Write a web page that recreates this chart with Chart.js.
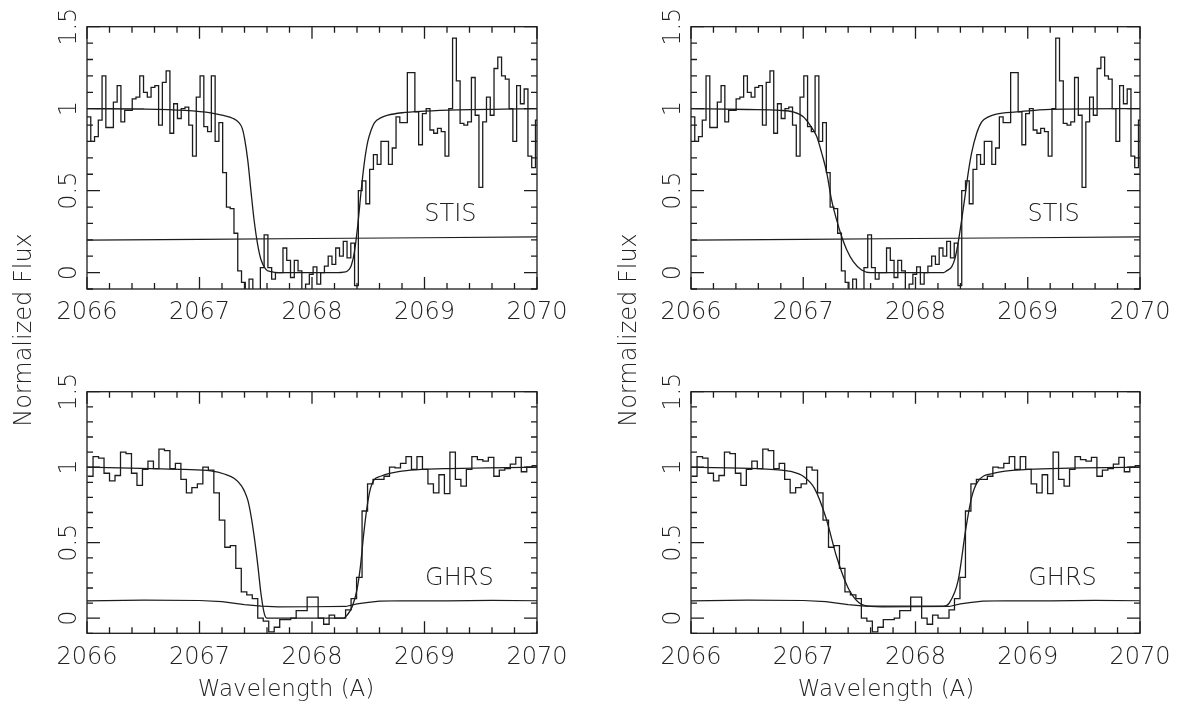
<!DOCTYPE html>
<html>
<head>
<meta charset="utf-8">
<script src="https://cdn.jsdelivr.net/npm/chart.js@4.4.0/dist/chart.umd.min.js"></script>
<style>
  body { margin: 0; background: #fff; }
  canvas { position: absolute; left: 0; top: 0; }
</style>
</head>
<body>
<canvas id="stisLeft" width="1181" height="728"></canvas>
<canvas id="stisRight" width="1181" height="728"></canvas>
<canvas id="ghrsLeft" width="1181" height="728"></canvas>
<canvas id="ghrsRight" width="1181" height="728"></canvas>
<script>
// STIS spectrum: bins of 0.0335 A starting at 2066.0
const stisStart = 2066.0, stisBin = 0.0335;
const stisFlux = [
  0.95, 0.80, 0.83, 0.93, 1.20, 0.885, 0.885, 1.04, 1.14, 0.92,
  0.99, 0.99, 1.06, 1.07, 1.20, 1.10, 1.07, 1.13, 1.14, 0.90,
  1.16, 1.23, 0.85, 1.03, 0.94, 1.00, 1.01, 0.90, 0.71, 1.07,
  1.20, 0.89, 0.86, 1.20, 0.80, 0.915, 0.61, 0.40, 0.39, 0.24,
  0.01, -0.06, -0.15, -0.04, -0.15, -0.15, 0.03, 0.23, 0.03, -0.04,
  0.00, 0.00, 0.15, 0.075, -0.03, 0.075, 0.01, -0.15, -0.07, -0.01,
  0.035, -0.07, 0.00, 0.04, 0.10, 0.05, 0.15, 0.10, 0.19, 0.09,
  0.18, -0.08, 0.50, 0.56, 0.42, 0.63, 0.72, 0.66, 0.80, 0.80,
  0.66, 0.76, 0.95, 0.915, 0.915, 1.22, 1.22, 0.98, 0.78, 0.97,
  1.00, 0.87, 0.85, 0.88, 0.86, 0.71, 1.00, 1.43, 1.17, 0.91,
  0.90, 0.92, 1.19, 0.96, 0.52, 0.92, 1.07, 0.96, 1.245, 1.315,
  1.20, 1.18, 1.00, 0.80, 1.14, 1.03, 1.12, 0.71, 0.64, 0.93
];

// GHRS spectrum: bins of 0.0488 A
const ghrsStart = 2066.005, ghrsBin = 0.0488;
const ghrsFlux = [
  0.94, 1.07, 1.06, 0.96, 0.91, 0.945, 1.10, 1.09, 0.96, 0.88,
  0.985, 1.04, 0.99, 1.12, 1.11, 0.99, 1.025, 0.92, 0.83, 0.865,
  0.89, 1.00, 0.98, 0.83, 0.65, 0.47, 0.48, 0.33, 0.175, 0.155,
  0.13, 0.00, -0.02, -0.09, -0.06, -0.01, -0.01, 0.00, 0.05, 0.05,
  0.14, 0.14, 0.00, -0.04, 0.02, 0.00, 0.00, 0.055, 0.13, 0.27,
  0.71, 0.89, 0.92, 0.92, 0.94, 1.00, 0.995, 1.025, 1.07, 0.985,
  1.07, 0.985, 0.89, 0.83, 0.95, 0.825, 1.10, 0.92, 0.875, 0.985,
  1.07, 1.05, 1.04, 1.065, 0.94, 0.98, 0.99, 1.02, 1.065, 0.97,
  1.00, 1.01
];

// error levels
const stisErrWave = [2066, 2067, 2068, 2069, 2070];
const stisErr = [0.198, 0.203, 0.208, 0.213, 0.218];
const ghrsErrWave = [2066, 2066.5, 2067.0, 2067.2, 2067.4, 2067.55, 2067.7, 2068.0, 2068.3, 2068.4, 2068.5, 2068.6, 2068.8, 2069.2, 2069.6, 2070];
const ghrsErr = [0.115, 0.12, 0.117, 0.11, 0.09, 0.08, 0.075, 0.076, 0.078, 0.095, 0.105, 0.113, 0.116, 0.115, 0.118, 0.116];

// model fits (left = first fit, right = second fit)
const stisFitLWave = [2066.0, 2066.5, 2066.87, 2067.1, 2067.2, 2067.3, 2067.35, 2067.38, 2067.40, 2067.43, 2067.457, 2067.487, 2067.517, 2067.546, 2067.59, 2067.636, 2067.7, 2068.2, 2068.30, 2068.33, 2068.35, 2068.378, 2068.407, 2068.437, 2068.467, 2068.496, 2068.526, 2068.556, 2068.615, 2068.674, 2068.8, 2069.0, 2069.3, 2069.7, 2070.0];
const stisFitL = [1.00, 0.998, 0.99, 0.975, 0.96, 0.94, 0.915, 0.88, 0.82, 0.68, 0.50, 0.31, 0.17, 0.08, 0.02, 0.006, 0.0, 0.0, 0.005, 0.02, 0.045, 0.13, 0.29, 0.50, 0.68, 0.80, 0.87, 0.915, 0.945, 0.96, 0.975, 0.985, 0.993, 0.997, 1.0];

const stisFitRWave = [2066.0, 2066.5, 2066.79, 2066.91, 2067.0, 2067.06, 2067.12, 2067.164, 2067.209, 2067.253, 2067.298, 2067.342, 2067.387, 2067.446, 2067.52, 2067.6, 2068.25, 2068.28, 2068.322, 2068.352, 2068.382, 2068.411, 2068.44, 2068.47, 2068.5, 2068.545, 2068.59, 2068.65, 2068.72, 2068.9, 2069.2, 2070.0];
const stisFitR = [1.0, 0.995, 0.99, 0.98, 0.95, 0.90, 0.83, 0.73, 0.61, 0.44, 0.32, 0.22, 0.14, 0.067, 0.016, 0.0, 0.0, 0.012, 0.035, 0.087, 0.19, 0.32, 0.46, 0.61, 0.73, 0.85, 0.92, 0.95, 0.967, 0.98, 0.996, 1.0];

const ghrsFitLWave = [2066.0, 2066.57, 2066.86, 2067.1, 2067.22, 2067.31, 2067.37, 2067.40, 2067.43, 2067.46, 2067.49, 2067.52, 2067.546, 2067.576, 2067.6, 2068.28, 2068.312, 2068.357, 2068.40, 2068.43, 2068.46, 2068.49, 2068.52, 2068.55, 2068.61, 2068.7, 2068.876, 2069.17, 2070.0];
const ghrsFitL = [1.0, 0.99, 0.985, 0.975, 0.955, 0.925, 0.88, 0.84, 0.78, 0.67, 0.52, 0.34, 0.165, 0.03, 0.0, 0.0, 0.02, 0.076, 0.19, 0.34, 0.56, 0.74, 0.86, 0.915, 0.94, 0.96, 0.98, 0.99, 1.0];

const ghrsFitRWave = [2066.0, 2066.6, 2066.9, 2067.0, 2067.1, 2067.2, 2067.3, 2067.4, 2067.5, 2067.6, 2068.25, 2068.3, 2068.38, 2068.45, 2068.5, 2068.55, 2068.7, 2069.0, 2070.0];
const ghrsFitR = [1.0, 0.99, 0.97, 0.94, 0.86, 0.67, 0.40, 0.20, 0.10, 0.08, 0.08, 0.10, 0.25, 0.60, 0.80, 0.90, 0.96, 0.985, 1.0];

const xTicks = [2066, 2067, 2068, 2069, 2070];
const xTickLabels = ['2066', '2067', '2068', '2069', '2070'];
const yTicks = [0, 0.5, 1, 1.5];
const yTickLabels = ['0', '0.5', '1', '1.5'];

const INK = '#1c1c1c';
const FONT = '"DejaVu Sans", sans-serif';

function histPoints(start, bin, flux) {
    const pts = flux.map((v, i) => ({ x: start + i * bin, y: v }));
    pts.push({ x: start + flux.length * bin, y: flux[flux.length - 1] });
    return pts;
}

function linePoints(wave, vals) {
    return wave.map((w, i) => ({ x: w, y: vals[i] }));
}

// frame, inward ticks and all text
const framePlugin = {
    id: 'frame',
    afterDraw(chart, args, o) {
        const { ctx, chartArea: a } = chart;
        const sx = chart.scales.x, sy = chart.scales.y;
        ctx.save();
        ctx.strokeStyle = INK;
        ctx.lineWidth = 1.3;
        ctx.strokeRect(a.left, a.top, a.right - a.left, a.bottom - a.top);

        ctx.beginPath();
        for (let k = 0; k <= 20; k++) {
            const px = sx.getPixelForValue(xTicks[0] + k * 0.2);
            const len = (k % 5 === 0) ? 12 : 6;
            ctx.moveTo(px, a.bottom); ctx.lineTo(px, a.bottom - len);
            ctx.moveTo(px, a.top); ctx.lineTo(px, a.top + len);
        }
        for (let k = -1; k <= 15; k++) {
            const py = sy.getPixelForValue(k * 0.1);
            const len = (k % 5 === 0) ? 13 : 6;
            ctx.moveTo(a.left, py); ctx.lineTo(a.left + len, py);
            ctx.moveTo(a.right, py); ctx.lineTo(a.right - len, py);
        }
        ctx.stroke();

        ctx.fillStyle = '#222';
        ctx.font = '200 24px ' + FONT;
        ctx.textAlign = 'center';
        ctx.textBaseline = 'middle';
        xTicks.forEach((v, i) => {
            ctx.fillText(xTickLabels[i], sx.getPixelForValue(v), a.bottom + 24);
        });
        yTicks.forEach((v, i) => {
            ctx.save();
            ctx.translate(a.left - 17, sy.getPixelForValue(v));
            ctx.rotate(-Math.PI / 2);
            ctx.fillText(yTickLabels[i], 0, 0);
            ctx.restore();
        });

        ctx.fillText(o.tag, sx.getPixelForValue(o.tagX), sy.getPixelForValue(o.tagY));

        if (o.yTitle) {
            ctx.save();
            ctx.translate(o.yTitle.x, o.yTitle.y);
            ctx.rotate(-Math.PI / 2);
            ctx.fillText('Normalized Flux', 0, 0);
            ctx.restore();
        }
        if (o.xTitle) {
            ctx.font = '200 23px ' + FONT;
            ctx.fillText('Wavelength (A)', o.xTitle.x, o.xTitle.y);
        }
        ctx.restore();
    }
};

function makePanel(id, box, hist, err, fit, frameOpts) {
    const ctx = document.getElementById(id).getContext('2d');
    return new Chart(ctx, {
        type: 'line',
        data: {
            datasets: [
                { data: err, borderColor: INK, borderWidth: 1.1, pointRadius: 0, tension: 0, clip: 0 },
                { data: fit, borderColor: INK, borderWidth: 1.3, pointRadius: 0, cubicInterpolationMode: 'monotone', clip: 0 },
                { data: hist, borderColor: INK, borderWidth: 1.3, pointRadius: 0, stepped: true, clip: 0 }
            ]
        },
        options: {
            responsive: false,
            animation: false,
            devicePixelRatio: 1,
            layout: { padding: { left: box.left, top: box.top, right: 1181 - box.right, bottom: 728 - box.bottom } },
            scales: {
                x: { type: 'linear', min: 2066, max: 2070, display: false },
                y: { type: 'linear', min: -0.1, max: 1.5, display: false }
            },
            plugins: {
                legend: { display: false },
                tooltip: { enabled: false },
                frame: frameOpts
            }
        },
        plugins: [framePlugin]
    });
}

const stisHist = histPoints(stisStart, stisBin, stisFlux);
const ghrsHist = histPoints(ghrsStart, ghrsBin, ghrsFlux);
const stisErrLine = linePoints(stisErrWave, stisErr);
const ghrsErrLine = linePoints(ghrsErrWave, ghrsErr);

makePanel('stisLeft', { left: 87, top: 26.7, right: 537, bottom: 289 },
    stisHist, stisErrLine, linePoints(stisFitLWave, stisFitL),
    { tag: 'STIS', tagX: 2069.23, tagY: 0.35 });
makePanel('stisRight', { left: 691, top: 26.7, right: 1140, bottom: 289 },
    stisHist, stisErrLine, linePoints(stisFitRWave, stisFitR),
    { tag: 'STIS', tagX: 2069.23, tagY: 0.35 });
makePanel('ghrsLeft', { left: 87, top: 391.7, right: 537, bottom: 633.3 },
    ghrsHist, ghrsErrLine, linePoints(ghrsFitLWave, ghrsFitL),
    { tag: 'GHRS', tagX: 2069.31, tagY: 0.26, yTitle: { x: 25, y: 330 }, xTitle: { x: 286, y: 690 } });
makePanel('ghrsRight', { left: 691, top: 391.7, right: 1140, bottom: 633.3 },
    ghrsHist, ghrsErrLine, linePoints(ghrsFitRWave, ghrsFitR),
    { tag: 'GHRS', tagX: 2069.31, tagY: 0.26, yTitle: { x: 630, y: 330 }, xTitle: { x: 886, y: 690 } });
</script>
</body>
</html>
